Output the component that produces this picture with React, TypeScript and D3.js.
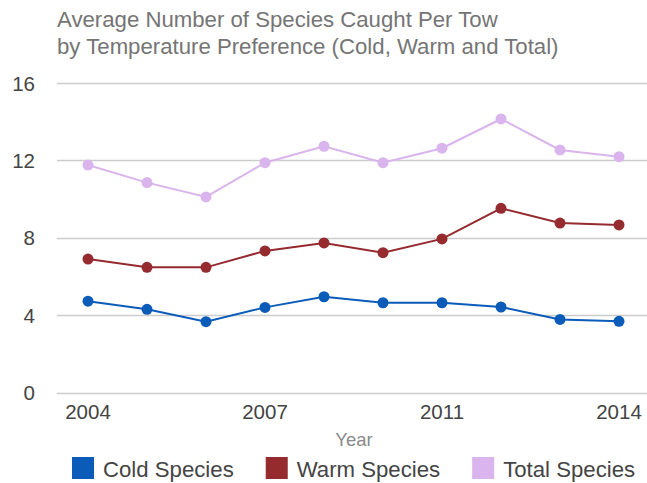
import React, { useEffect, useRef } from "react";
import * as d3 from "d3";

const years = ["2004", "2005", "2006", "2007", "2008", "2009", "2011", "2012", "2013", "2014"];
const shownYears = ["2004", "2007", "2011", "2014"];
const coldSpecies = [4.72, 4.3, 3.66, 4.4, 4.95, 4.64, 4.64, 4.42, 3.78, 3.68];
const warmSpecies = [6.9, 6.47, 6.47, 7.32, 7.73, 7.23, 7.94, 9.52, 8.76, 8.66];
const totalSpecies = [11.76, 10.85, 10.11, 11.88, 12.73, 11.88, 12.63, 14.14, 12.54, 12.19];
const yTicks = [0, 4, 8, 12, 16];
const seriesNames = ["Cold Species", "Warm Species", "Total Species"];
const seriesColors = ["#0b5cb9", "#952a2f", "#dab4ec"];
const titleLines = [
  "Average Number of Species Caught Per Tow",
  "by Temperature Preference (Cold, Warm and Total)",
];

const W = 647;
const H = 483;
const FONT = "Arial, 'Liberation Sans', sans-serif";

export default function App() {
  const ref = useRef<SVGSVGElement | null>(null);

  useEffect(() => {
    const svg = d3.select(ref.current);
    svg.selectAll("*").remove();

    const x = d3.scalePoint<string>().domain(years).range([58.5, 648.5]).padding(0.5);
    const y = d3.scaleLinear().domain([0, 16]).range([392.5, 83]);

    // title
    svg
      .append("g")
      .selectAll("text")
      .data(titleLines)
      .join("text")
      .attr("x", 57)
      .attr("y", (_, i) => 27 + i * 27)
      .attr("font-family", FONT)
      .attr("font-size", 22.2)
      .attr("fill", "#757575")
      .text((d) => d);

    // gridlines
    svg
      .append("g")
      .selectAll("line")
      .data(yTicks)
      .join("line")
      .attr("x1", 57)
      .attr("x2", 647)
      .attr("y1", (d) => Math.round(y(d)) + 0.5)
      .attr("y2", (d) => Math.round(y(d)) + 0.5)
      .attr("stroke", "#cccccc")
      .attr("stroke-width", 1.5);

    // y tick labels
    svg
      .append("g")
      .selectAll("text")
      .data(yTicks)
      .join("text")
      .attr("x", 35)
      .attr("y", (d) => y(d) + 7.5)
      .attr("text-anchor", "end")
      .attr("font-family", FONT)
      .attr("font-size", 20.5)
      .attr("fill", "#444444")
      .text((d) => String(d));

    // x tick labels
    svg
      .append("g")
      .selectAll("text")
      .data(shownYears)
      .join("text")
      .attr("x", (d) => x(d) as number)
      .attr("y", 419)
      .attr("text-anchor", "middle")
      .attr("font-family", FONT)
      .attr("font-size", 20.5)
      .attr("fill", "#444444")
      .text((d) => d);

    // axis title
    svg
      .append("text")
      .attr("x", 354)
      .attr("y", 446)
      .attr("text-anchor", "middle")
      .attr("font-family", FONT)
      .attr("font-size", 18.5)
      .attr("fill", "#8a8a8a")
      .text("Year");

    // series
    const allSeries = [coldSpecies, warmSpecies, totalSpecies];
    const line = d3
      .line<number>()
      .x((_, i) => x(years[i]) as number)
      .y((d) => y(d));

    // draw total first so cold sits on top
    [2, 1, 0].forEach((si) => {
      const vals = allSeries[si];
      const g = svg.append("g");
      g.append("path")
        .attr("d", line(vals) as string)
        .attr("fill", "none")
        .attr("stroke", seriesColors[si])
        .attr("stroke-width", 2);
      g.selectAll("circle")
        .data(vals)
        .join("circle")
        .attr("cx", (_, i) => x(years[i]) as number)
        .attr("cy", (d) => y(d))
        .attr("r", 5.5)
        .attr("fill", seriesColors[si]);
    });

    // legend
    const legend = svg.append("g");
    let lx = 72;
    seriesNames.forEach((name, i) => {
      legend
        .append("rect")
        .attr("x", lx)
        .attr("y", 457)
        .attr("width", 22)
        .attr("height", 22)
        .attr("fill", seriesColors[i]);
      const t = legend
        .append("text")
        .attr("x", lx + 31)
        .attr("y", 476.5)
        .attr("font-family", FONT)
        .attr("font-size", 22.2)
        .attr("fill", "#444444")
        .text(name);
      const w = (t.node() as SVGTextElement).getComputedTextLength();
      lx += 31 + w + 32;
    });
  }, []);

  return (
    <svg
      ref={ref}
      width={W}
      height={H}
      style={{ position: "absolute", left: 0, top: 0, background: "#ffffff" }}
    />
  );
}
